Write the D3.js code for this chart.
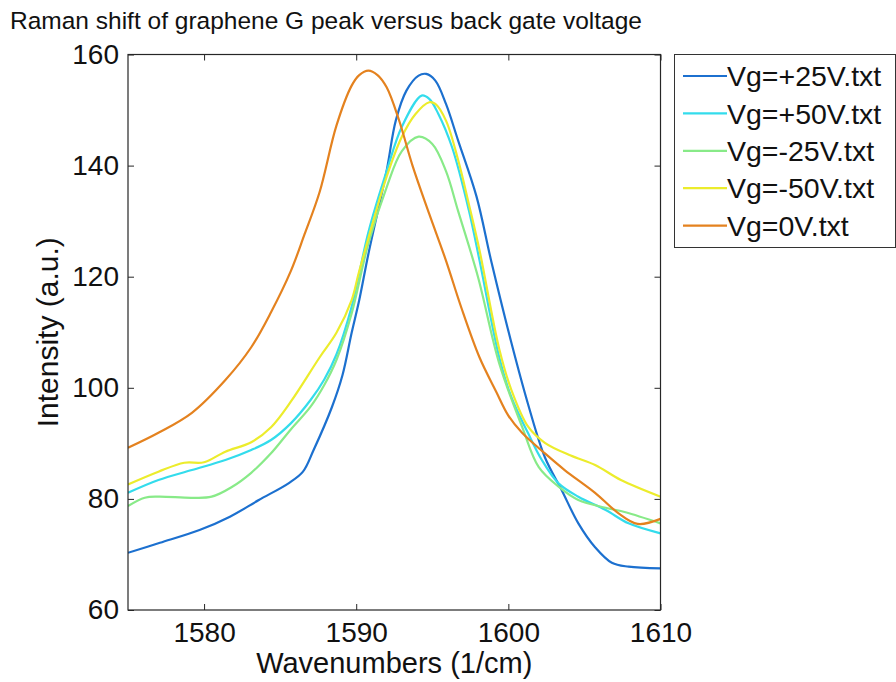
<!DOCTYPE html>
<html>
<head>
<meta charset="utf-8">
<script src="https://cdn.jsdelivr.net/npm/d3@7"></script>
<style>
    body { margin: 0; background: #fff; }
    svg { display: block; font-family: "Liberation Sans", Arial, sans-serif; }
</style>
</head>
<body>
<svg id="chart" width="896" height="682"></svg>
<script>
var seriesNames = ['Vg=+25V.txt', 'Vg=+50V.txt', 'Vg=-25V.txt', 'Vg=-50V.txt', 'Vg=0V.txt'];
var seriesColors = ['#1c70cf', '#33dcec', '#88ea88', '#ecec2c', '#e4821f'];

var xTicks = [1580, 1590, 1600, 1610];
var yTicks = [60, 80, 100, 120, 140, 160];

var wnPlus25 = [1575.0, 1577.1, 1579.7, 1581.7, 1583.6, 1585.6, 1586.5, 1587.2, 1588.4, 1589.1, 1589.7, 1590.2, 1590.8, 1592.0, 1592.6, 1593.3, 1594.1, 1594.6, 1595.2, 1595.9, 1596.7, 1597.9, 1598.9, 1600.2, 1601.3, 1602.4, 1603.5, 1604.6, 1605.7, 1606.8, 1607.9, 1610.0];
var intPlus25 = [70.3, 72.1, 74.4, 76.8, 79.8, 82.9, 84.9, 88.8, 96.5, 102.3, 109.9, 115.8, 124.1, 139.1, 148.1, 153.5, 156.2, 156.5, 155.3, 151.1, 144.5, 134.5, 122.5, 108.1, 97.0, 87.5, 81.6, 75.6, 71.3, 68.5, 67.8, 67.5];

var wnPlus50 = [1575.0, 1577.0, 1579.2, 1581.4, 1583.1, 1584.4, 1585.7, 1587.0, 1587.9, 1588.7, 1589.7, 1590.8, 1592.0, 1593.0, 1594.3, 1594.8, 1595.4, 1596.3, 1597.4, 1598.1, 1599.4, 1600.2, 1601.3, 1602.2, 1603.3, 1604.6, 1606.4, 1607.9, 1610.0];
var intPlus50 = [81.1, 83.4, 85.2, 87.0, 88.8, 90.6, 93.6, 97.8, 101.5, 106.0, 114.6, 128.0, 139.0, 147.0, 152.6, 152.0, 149.3, 143.3, 132.0, 123.0, 105.5, 98.3, 91.8, 87.0, 82.8, 80.4, 78.0, 75.6, 73.8];

var wnMinus25 = [1575.0, 1576.1, 1577.0, 1579.2, 1580.5, 1581.8, 1583.1, 1584.4, 1585.7, 1587.0, 1587.9, 1588.7, 1589.7, 1590.8, 1592.0, 1593.0, 1594.1, 1595.0, 1595.9, 1596.7, 1598.0, 1599.4, 1600.9, 1602.0, 1603.3, 1604.6, 1606.4, 1607.7, 1610.0];
var intMinus25 = [78.7, 80.2, 80.4, 80.2, 80.4, 82.1, 84.7, 88.2, 92.5, 96.6, 100.5, 105.0, 113.4, 126.0, 136.1, 142.6, 145.2, 143.9, 139.0, 131.8, 120.0, 104.4, 93.0, 85.7, 82.2, 79.8, 78.4, 77.6, 75.6];

var wnMinus50 = [1575.0, 1577.0, 1578.7, 1580.0, 1581.4, 1583.1, 1584.4, 1585.7, 1587.6, 1588.7, 1589.7, 1590.2, 1592.0, 1593.0, 1593.9, 1594.8, 1595.2, 1595.9, 1596.7, 1597.4, 1598.1, 1599.4, 1600.2, 1601.3, 1602.4, 1604.1, 1605.7, 1607.4, 1610.0];
var intMinus50 = [82.6, 84.9, 86.5, 86.6, 88.5, 90.2, 92.9, 97.5, 105.5, 109.9, 115.8, 121.0, 138.0, 145.2, 149.3, 151.4, 151.1, 148.1, 141.0, 133.1, 124.8, 107.0, 99.6, 93.0, 90.1, 87.8, 86.1, 83.4, 80.4];

var wnZero = [1575.0, 1577.0, 1579.2, 1581.4, 1583.1, 1584.4, 1585.7, 1586.6, 1587.6, 1588.7, 1589.7, 1590.2, 1590.8, 1591.4, 1592.0, 1592.8, 1593.7, 1594.8, 1595.9, 1596.9, 1598.1, 1599.2, 1600.0, 1600.9, 1602.4, 1603.7, 1605.7, 1607.2, 1608.5, 1610.0];
var intZero = [89.2, 91.9, 95.5, 101.4, 107.3, 113.6, 121.0, 127.6, 135.3, 147.2, 154.4, 156.3, 157.1, 156.3, 154.1, 148.3, 140.0, 131.3, 122.9, 114.5, 105.5, 99.3, 95.0, 91.9, 88.2, 85.2, 81.1, 77.5, 75.5, 76.4];

var wavenumbers = [wnPlus25, wnPlus50, wnMinus25, wnMinus50, wnZero];
var intensities = [intPlus25, intPlus50, intMinus25, intMinus50, intZero];

(function drawChart() {
    var svg = d3.select('#chart'),
        plotLeft = 128,
        plotTop = 54.5,
        plotRight = 660.5,
        plotBottom = 610,
        fontFamily = '"Liberation Sans", Arial, sans-serif';

    var x = d3.scaleLinear().domain([1575, 1610]).range([plotLeft, plotRight]);
    var y = d3.scaleLinear().domain([60, 160]).range([plotBottom, plotTop]);

    svg.append('defs').append('clipPath')
        .attr('id', 'plot-clip')
        .append('rect')
        .attr('x', plotLeft)
        .attr('y', plotTop)
        .attr('width', plotRight - plotLeft)
        .attr('height', plotBottom - plotTop);

    // curves
    var line = d3.line()
        .x(function (d) { return x(d[0]); })
        .y(function (d) { return y(d[1]); })
        .curve(d3.curveCatmullRom.alpha(0.5));

    var curves = svg.append('g').attr('clip-path', 'url(#plot-clip)');

    seriesNames.forEach(function (name, i) {
        var points = wavenumbers[i].map(function (w, j) {
            return [w, intensities[i][j]];
        });
        curves.append('path')
            .datum(points)
            .attr('fill', 'none')
            .attr('stroke', seriesColors[i])
            .attr('stroke-width', 2.2)
            .attr('stroke-linejoin', 'round')
            .attr('d', line);
    });

    // axes, MATLAB style box with inward ticks
    function styleAxis(g) {
        g.select('.domain').remove();
        g.selectAll('line').attr('stroke', '#262626').attr('stroke-width', 1);
        g.selectAll('text')
            .attr('fill', '#111')
            .style('font-family', fontFamily)
            .style('font-size', '28px');
    }

    svg.append('g')
        .attr('transform', 'translate(0,' + plotBottom + ')')
        .call(d3.axisBottom(x).tickValues(xTicks).tickFormat(d3.format('d')).tickSizeInner(-6).tickPadding(12))
        .call(styleAxis);

    svg.append('g')
        .attr('transform', 'translate(0,' + plotTop + ')')
        .call(d3.axisTop(x).tickValues(xTicks).tickSizeInner(-6).tickFormat(''))
        .call(styleAxis);

    svg.append('g')
        .attr('transform', 'translate(' + plotLeft + ',0)')
        .call(d3.axisLeft(y).tickValues(yTicks).tickSizeInner(-6).tickPadding(9))
        .call(styleAxis);

    svg.append('g')
        .attr('transform', 'translate(' + plotRight + ',0)')
        .call(d3.axisRight(y).tickValues(yTicks).tickSizeInner(-6).tickFormat(''))
        .call(styleAxis);

    svg.append('rect')
        .attr('x', plotLeft)
        .attr('y', plotTop)
        .attr('width', plotRight - plotLeft)
        .attr('height', plotBottom - plotTop)
        .attr('fill', 'none')
        .attr('stroke', '#262626')
        .attr('stroke-width', 1.2);

    // labels
    svg.append('text')
        .attr('x', 10)
        .attr('y', 29)
        .attr('fill', '#111')
        .style('font-size', '24.5px')
        .text('Raman shift of graphene G peak versus back gate voltage');

    svg.append('text')
        .attr('x', (plotLeft + plotRight) / 2)
        .attr('y', 673)
        .attr('text-anchor', 'middle')
        .attr('fill', '#111')
        .style('font-size', '29px')
        .text('Wavenumbers (1/cm)');

    svg.append('text')
        .attr('transform', 'translate(58,' + ((plotTop + plotBottom) / 2) + ') rotate(-90)')
        .attr('text-anchor', 'middle')
        .attr('fill', '#111')
        .style('font-size', '30px')
        .text('Intensity (a.u.)');

    // legend
    var legend = svg.append('g');

    legend.append('rect')
        .attr('x', 674.5)
        .attr('y', 54.5)
        .attr('width', 221)
        .attr('height', 193)
        .attr('fill', '#fff')
        .attr('stroke', '#333')
        .attr('stroke-width', 1);

    var rows = legend.selectAll('g.row')
        .data(seriesNames)
        .enter()
        .append('g')
        .attr('class', 'row')
        .attr('transform', function (d, i) { return 'translate(0,' + (76 + i * 37.4) + ')'; });

    rows.append('line')
        .attr('x1', 683)
        .attr('x2', 727)
        .attr('stroke', function (d, i) { return seriesColors[i]; })
        .attr('stroke-width', 2.2);

    rows.append('text')
        .attr('x', 727)
        .attr('dy', '0.36em')
        .attr('fill', '#111')
        .style('font-size', '28.5px')
        .text(function (d) { return d; });
})();
</script>
</body>
</html>
